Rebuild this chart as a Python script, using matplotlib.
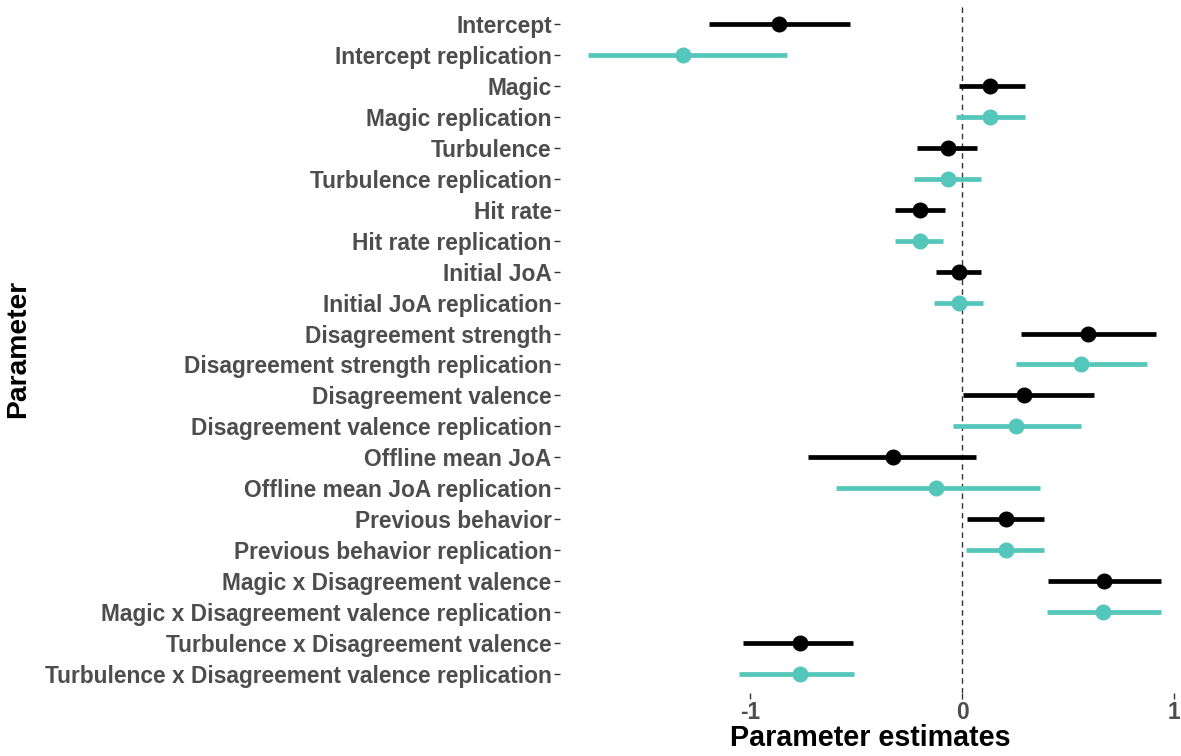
import numpy as np
import matplotlib.pyplot as plt

plt.rcParams['font.family'] = ['Liberation Sans', 'DejaVu Sans']

# parameter names, top to bottom
params = ["Intercept", "Magic", "Turbulence", "Hit rate", "Initial JoA",
          "Disagreement strength", "Disagreement valence", "Offline mean JoA",
          "Previous behavior", "Magic x Disagreement valence",
          "Turbulence x Disagreement valence"]

# original study
orig_est = [-0.867, 0.131, -0.064, -0.200, -0.015, 0.597, 0.294, -0.326, 0.206, 0.672, -0.766]
orig_lo = [-1.196, -0.013, -0.212, -0.315, -0.124, 0.281, 0.004, -0.730, 0.024, 0.408, -1.036]
orig_hi = [-0.530, 0.300, 0.069, -0.079, 0.092, 0.919, 0.624, 0.064, 0.388, 0.942, -0.515]

# replication
rep_est = [-1.318, 0.131, -0.064, -0.200, -0.015, 0.564, 0.253, -0.125, 0.206, 0.667, -0.766]
rep_lo = [-1.770, -0.030, -0.225, -0.315, -0.133, 0.255, -0.043, -0.596, 0.019, 0.403, -1.056]
rep_hi = [-0.828, 0.300, 0.092, -0.092, 0.099, 0.873, 0.564, 0.367, 0.388, 0.942, -0.509]

black = '#000000'
teal = '#55C6BA'

labels = []
for p in params:
    labels += [p, p + " replication"]
n = len(labels)

fig = plt.figure(figsize=(11.81, 7.56), dpi=100)
ax = fig.add_axes([560 / 1181, 1 - 692.6 / 756, 1 - 560 / 1181, (692.6 - 5.4) / 756])

y_orig = np.arange(len(params)) * 2
y_rep = y_orig + 1

ax.axvline(0, color='#333333', linestyle=(0, (4, 3)), linewidth=1, zorder=1)

ax.hlines(y_orig, orig_lo, orig_hi, color=black, linewidth=3.4, zorder=2)
ax.plot(orig_est, y_orig, 'o', color=black, markersize=10.5, zorder=3)
ax.hlines(y_rep, rep_lo, rep_hi, color=teal, linewidth=3.4, zorder=2)
ax.plot(rep_est, y_rep, 'o', color=teal, markersize=10.5, zorder=3)

ax.set_ylim(n - 1 + 0.6, -0.6)
ax.set_xlim(-1.90, 1.035)
ax.set_yticks(np.arange(n))
ax.set_yticklabels(labels, fontsize=16.35, fontweight='bold', color='#4D4D4D')
ax.set_xticks([-1, 0, 1])
ax.set_xticklabels(['-1', '0', '1'], fontsize=16.35, fontweight='bold', color='#4D4D4D')
ax.tick_params(axis='both', length=4, width=1, color='#333333', pad=2)

for s in ax.spines.values():
    s.set_visible(False)

ax.set_xlabel("Parameter estimates", fontsize=20.6, fontweight='bold', color='black', labelpad=0)
ax.set_ylabel("Parameter", fontsize=20.3, fontweight='bold', color='black')
ax.yaxis.set_label_coords(-0.852, 0.5)

fig.savefig('out.png', dpi=100)
